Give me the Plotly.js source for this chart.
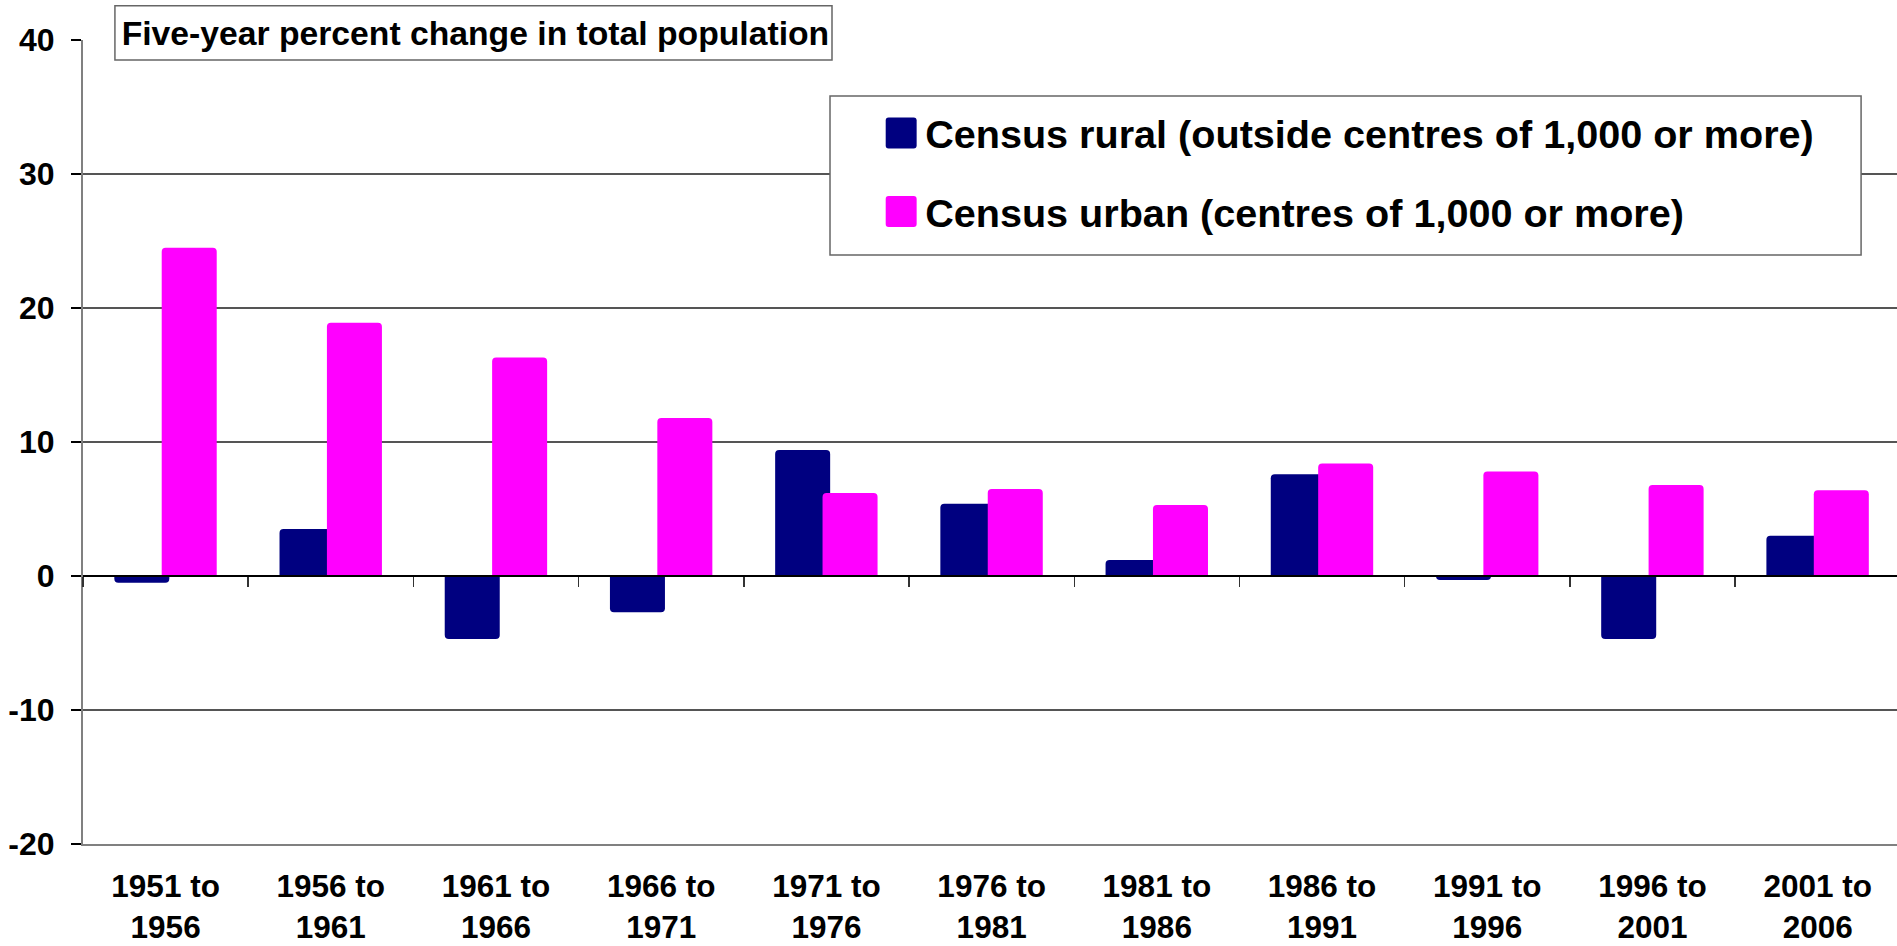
<!DOCTYPE html>
<html>
<head>
<meta charset="utf-8">
<script src="https://cdn.plot.ly/plotly-3.0.1.min.js"></script>
<style>
html,body{margin:0;padding:0;background:#ffffff;}
#chart{width:1897px;height:946px;}
</style>
</head>
<body>
<div id="chart"></div>
<script>
// ---- data ----
const categories = ["1951 to<br>1956", "1956 to<br>1961", "1961 to<br>1966", "1966 to<br>1971",
  "1971 to<br>1976", "1976 to<br>1981", "1981 to<br>1986", "1986 to<br>1991",
  "1991 to<br>1996", "1996 to<br>2001", "2001 to<br>2006"];
const ruralValues = [-0.5, 3.5, -4.7, -2.7, 9.4, 5.4, 1.2, 7.6, -0.3, -4.7, 3.0];
const urbanValues = [24.5, 18.9, 16.3, 11.8, 6.2, 6.5, 5.3, 8.4, 7.8, 6.8, 6.4];
const seriesNames = ["Census rural (outside centres of 1,000 or more)", "Census urban (centres of 1,000 or more)"];
const yTickValues = [-20, -10, 0, 10, 20, 30, 40];
const chartTitle = "Five-year percent change in total population";

// ---- styling ----
const FONT = "Liberation Sans, Arial, Helvetica, sans-serif";
const yMin = -20, yMax = 40;
const barW = 0.333;
const xRange = [-0.5, 10.48];

const traces = [
  {
    type: "bar", name: seriesNames[0], x: categories, y: ruralValues,
    xaxis: "x", yaxis: "y",
    offset: -0.3105, width: barW, legendgroup: "rural",
    marker: {color: "#000080", cornerradius: 4, line: {width: 0}},
    hoverinfo: "skip"
  },
  {
    type: "bar", name: seriesNames[1], x: categories, y: urbanValues,
    xaxis: "x2", yaxis: "y",
    offset: -0.0236, width: barW, legendgroup: "urban",
    marker: {color: "#FF00FF", cornerradius: 4, line: {width: 0}},
    hoverinfo: "skip"
  }
];

const layout = {
  width: 1897, height: 946,
  margin: {l: 83, r: 0, t: 40, b: 102, pad: 0},
  paper_bgcolor: "#ffffff", plot_bgcolor: "#ffffff",
  barmode: "overlay",
  showlegend: true,
  font: {family: FONT, color: "#000000"},
  title: {
    text: chartTitle,
    font: {family: FONT, size: 33.7, weight: "bold", color: "#000000"},
    xref: "paper", x: 0.0213, xanchor: "left",
    yref: "container", y: 0.965, yanchor: "middle"
  },
  xaxis: {
    type: "category", categoryorder: "array", categoryarray: categories, range: xRange,
    showgrid: false, zeroline: false,
    showline: true, linecolor: "#808080", linewidth: 2,
    ticks: "", tickangle: 0,
    tickfont: {family: FONT, size: 31.5, weight: "bold", color: "#000000"},
    ticklabelstandoff: 13,
    fixedrange: true
  },
  xaxis2: {
    type: "category", categoryorder: "array", categoryarray: categories, range: xRange,
    overlaying: "x", anchor: "free",
    position: (0 - yMin) / (yMax - yMin),
    tickson: "boundaries",
    ticks: "outside", ticklen: 10, tickwidth: 1.5, tickcolor: "#333333",
    showticklabels: false, showgrid: false, showline: false, zeroline: false,
    fixedrange: true
  },
  yaxis: {
    range: [yMin, yMax],
    tickmode: "array", tickvals: yTickValues, ticktext: yTickValues.map(String),
    showgrid: true, gridcolor: "#555555", gridwidth: 1.5,
    zeroline: true, zerolinecolor: "#000000", zerolinewidth: 1.5,
    zerolinelayer: "above traces",
    showline: true, linecolor: "#808080", linewidth: 2,
    ticks: "outside", ticklen: 10, tickwidth: 1.5, tickcolor: "#000000",
    tickfont: {family: FONT, size: 32, weight: "bold", color: "#000000"},
    ticklabelstandoff: 10,
    fixedrange: true
  },
  legend: {
    x: 0.4422, xanchor: "left", y: 0.9245, yanchor: "top",
    xref: "paper", yref: "paper",
    bgcolor: "rgba(0,0,0,0)", borderwidth: 0,
    font: {family: FONT, size: 39.6, weight: "bold", color: "#000000"},
    traceorder: "grouped", tracegroupgap: 24,
    itemclick: false, itemdoubleclick: false
  },
  shapes: [
    // title frame
    {type: "rect", xref: "paper", yref: "paper", x0: 0.0176, x1: 0.4129, y0: 0.9751, y1: 1.0427,
     fillcolor: "#ffffff", line: {color: "#666666", width: 1.5}, layer: "above"},
    // legend frame
    {type: "rect", xref: "paper", yref: "paper", x0: 0.4118, x1: 0.9802, y0: 0.7326, y1: 0.9303,
     fillcolor: "#ffffff", line: {color: "#666666", width: 1.5}, layer: "above"}
  ]
};

Plotly.newPlot("chart", traces, layout, {displayModeBar: false, staticPlot: true}).then(function (gd) {
  const sq = "M11.5,12.5V-12.5Q11.5,-15.5 8.5,-15.5H-16.5Q-19.5,-15.5 -19.5,-12.5V12.5Q-19.5,15.5 -16.5,15.5H8.5Q11.5,15.5 11.5,12.5Z";
  gd.querySelectorAll(".legend .legendpoints path").forEach(function (p) {
    p.setAttribute("d", sq);
    p.style.strokeWidth = "0";
  });
});
</script>
</body>
</html>
